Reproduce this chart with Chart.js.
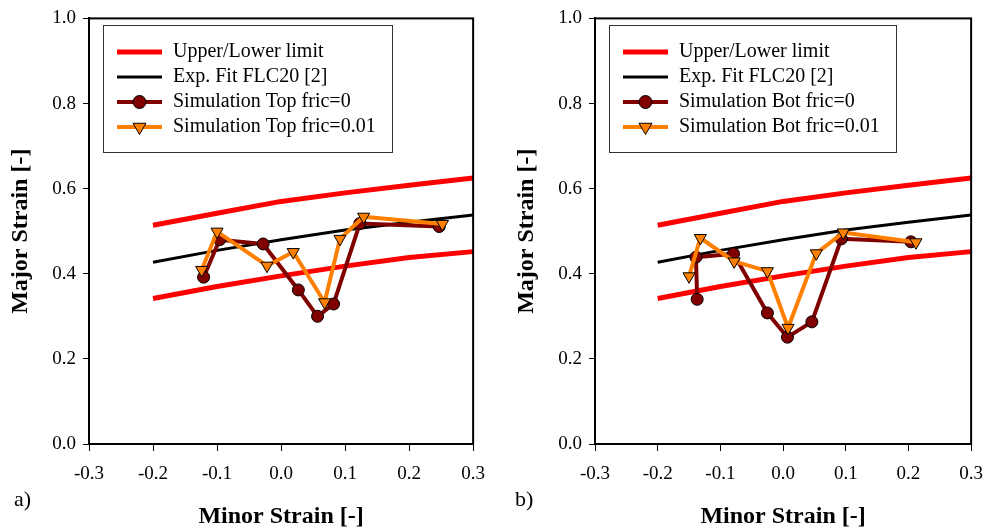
<!DOCTYPE html>
<html><head><meta charset="utf-8">
<script src="https://cdn.jsdelivr.net/npm/chart.js@4.4.1/dist/chart.umd.min.js"></script>
<style>
html,body{margin:0;padding:0;background:#fff;overflow:hidden}
#wrapA{position:absolute;left:0;top:0;width:497px;height:530px}
#wrapB{position:absolute;left:506px;top:0;width:489px;height:530px}
</style></head><body>
<div id="wrapA"><canvas id="chartA" width="497" height="530"></canvas></div>
<div id="wrapB"><canvas id="chartB" width="489" height="530"></canvas></div>
<script>
// ---- data ----
const limitX = [-0.2, -0.1, 0.0, 0.1, 0.2, 0.3];
const upperLimit = [0.514, 0.542, 0.570, 0.590, 0.608, 0.625];
const lowerLimit = [0.342, 0.370, 0.395, 0.418, 0.438, 0.452];
const expFit = [0.427, 0.455, 0.480, 0.503, 0.521, 0.538];

const topFric0X = [-0.121, -0.096, -0.028, 0.027, 0.057, 0.082, 0.123, 0.247];
const topFric0Y = [0.392, 0.480, 0.470, 0.362, 0.300, 0.329, 0.518, 0.511];
const topFric001X = [-0.124, -0.100, -0.022, 0.019, 0.068, 0.092, 0.129, 0.252];
const topFric001Y = [0.409, 0.499, 0.419, 0.451, 0.333, 0.482, 0.534, 0.517];

const botFric0X = [-0.137, -0.139, -0.079, -0.025, 0.007, 0.046, 0.093, 0.204];
const botFric0Y = [0.340, 0.439, 0.447, 0.308, 0.251, 0.287, 0.482, 0.475];
const botFric001X = [-0.150, -0.132, -0.078, -0.025, 0.008, 0.053, 0.096, 0.212];
const botFric001Y = [0.394, 0.484, 0.429, 0.406, 0.273, 0.448, 0.497, 0.474];

const xTickValues = [-0.3, -0.2, -0.1, 0.0, 0.1, 0.2, 0.3];
const yTickValues = [0.0, 0.2, 0.4, 0.6, 0.8, 1.0];

const labelsA = ['Upper/Lower limit', 'Exp. Fit FLC20 [2]', 'Simulation Top fric=0', 'Simulation Top fric=0.01'];
const labelsB = ['Upper/Lower limit', 'Exp. Fit FLC20 [2]', 'Simulation Bot fric=0', 'Simulation Bot fric=0.01'];

// ---- helpers ----
const FONT = '"Liberation Serif", "Times New Roman", serif';
const pts = (xs, ys) => xs.map((x, i) => ({x: x, y: ys[i]}));
const fmt = v => (Math.abs(v) < 1e-9 ? '0.0' : Number(v).toFixed(1));

const framePlugin = {
  id: 'frame',
  afterDraw(chart) {
    const a = chart.chartArea, ctx = chart.ctx;
    ctx.save();
    ctx.strokeStyle = '#000'; ctx.lineWidth = 2;
    ctx.strokeRect(a.left, a.top, a.right - a.left, a.bottom - a.top);
    ctx.restore();
  }
};

const legendBoxPlugin = {
  id: 'legendBox',
  afterDatasetsDraw(chart, args, opts) {
    const ctx = chart.ctx, a = chart.chartArea;
    const x0 = Math.round(a.left + opts.dx), y0 = Math.round(a.top + opts.dy);
    ctx.save();
    ctx.font = opts.font;
    const items = chart.data.datasets.filter(d => !d.legendHidden);
    const tw = Math.max(...items.map(d => ctx.measureText(d.label).width));
    const w = Math.round(opts.textOffset + tw + opts.padRight);
    const h = opts.height;
    ctx.fillStyle = '#fff'; ctx.fillRect(x0, y0, w, h);
    ctx.strokeStyle = '#333'; ctx.lineWidth = 1; ctx.strokeRect(x0 + 0.5, y0 + 0.5, w, h);
    items.forEach((d, i) => {
      const y = y0 + opts.firstRow + i * opts.rowGap;
      ctx.strokeStyle = d.borderColor; ctx.lineWidth = d.borderWidth; ctx.lineCap = 'butt';
      ctx.beginPath(); ctx.moveTo(x0 + opts.lineStart, y); ctx.lineTo(x0 + opts.lineEnd, y); ctx.stroke();
      if (d.pointRadius > 0) {
        const cx = x0 + (opts.lineStart + opts.lineEnd) / 2;
        ctx.fillStyle = d.pointBackgroundColor; ctx.strokeStyle = d.pointBorderColor; ctx.lineWidth = d.pointBorderWidth;
        Chart.helpers.drawPoint(ctx, {pointStyle: d.pointStyle, radius: d.pointRadius + 0.5, rotation: d.pointRotation || 0, borderWidth: d.pointBorderWidth}, cx, y);
      }
      ctx.fillStyle = '#000'; ctx.textBaseline = 'middle'; ctx.textAlign = 'left';
      ctx.fillText(d.label, x0 + opts.textOffset, y);
    });
    ctx.restore();
  }
};

const panelTagPlugin = {
  id: 'panelTag',
  afterDraw(chart, args, opts) {
    const ctx = chart.ctx;
    ctx.save();
    ctx.font = opts.font; ctx.fillStyle = '#000';
    ctx.textBaseline = 'middle'; ctx.textAlign = 'left';
    ctx.fillText(opts.text, opts.x, opts.y);
    ctx.restore();
  }
};

function makeChart(id, labels, s0x, s0y, s1x, s1y, padRight, tag, tagX) {
  const datasets = [
    {label: labels[0], data: pts(limitX, upperLimit), borderColor: '#FF0000', borderWidth: 5, pointRadius: 0, order: 5},
    {label: labels[0], legendHidden: true, data: pts(limitX, lowerLimit), borderColor: '#FF0000', borderWidth: 5, pointRadius: 0, order: 4},
    {label: labels[1], data: pts(limitX, expFit), borderColor: '#000000', borderWidth: 3, pointRadius: 0, order: 3},
    {label: labels[2], data: pts(s0x, s0y), borderColor: '#800000', borderWidth: 4,
     pointStyle: 'circle', pointRadius: 6, pointBackgroundColor: '#800000', pointBorderColor: '#000', pointBorderWidth: 1, order: 2},
    {label: labels[3], data: pts(s1x, s1y), borderColor: '#FF8000', borderWidth: 4,
     pointStyle: 'triangle', pointRotation: 180, pointRadius: 7, pointBackgroundColor: '#FF8000', pointBorderColor: '#000', pointBorderWidth: 1, order: 1}
  ];
  return new Chart(document.getElementById(id), {
    type: 'line',
    data: {datasets: datasets},
    options: {
      responsive: false, animation: false, devicePixelRatio: 1,
      layout: {padding: {left: 0, top: 17, right: padRight, bottom: 0}},
      elements: {line: {tension: 0, borderCapStyle: 'butt', borderJoinStyle: 'round'}},
      plugins: {
        legend: {display: false}, tooltip: {enabled: false},
        legendBox: {dx: 14, dy: 7, font: '20px ' + FONT, textOffset: 70, padRight: 16, height: 127,
                    firstRow: 27, rowGap: 25, lineStart: 14, lineEnd: 59},
        panelTag: {text: tag, x: tagX, y: 500, font: '22px ' + FONT}
      },
      scales: {
        x: {
          type: 'linear', min: -0.3, max: 0.3,
          afterBuildTicks: s => { s.ticks = xTickValues.map(v => ({value: v})); },
          afterFit: s => { s.height = 86; },
          ticks: {callback: fmt, color: '#000', font: {family: FONT, size: 19}, padding: 12, maxRotation: 0},
          grid: {drawOnChartArea: false, drawTicks: true, tickLength: 7, color: '#000', lineWidth: 1},
          border: {display: true, color: '#000', width: 2},
          title: {display: true, text: 'Minor Strain [-]', color: '#000', font: {family: FONT, size: 24, weight: 'bold', lineHeight: 1.1}, padding: {top: 0, bottom: 0}}
        },
        y: {
          type: 'linear', min: 0, max: 1.0,
          afterBuildTicks: s => { s.ticks = yTickValues.map(v => ({value: v})); },
          afterFit: s => { s.width = 89; },
          ticks: {callback: fmt, color: '#000', font: {family: FONT, size: 19}, padding: 7},
          grid: {drawOnChartArea: false, drawTicks: true, tickLength: 6, color: '#000', lineWidth: 1},
          border: {display: true, color: '#000', width: 2},
          title: {display: true, text: 'Major Strain [-]', color: '#000', font: {family: FONT, size: 24, weight: 'bold'}, padding: {top: 6, bottom: 0}}
        }
      }
    },
    plugins: [framePlugin, legendBoxPlugin, panelTagPlugin]
  });
}

makeChart('chartA', labelsA, topFric0X, topFric0Y, topFric001X, topFric001Y, 23, 'a)', 14);
makeChart('chartB', labelsB, botFric0X, botFric0Y, botFric001X, botFric001Y, 14, 'b)', 9);
</script>
</body></html>
